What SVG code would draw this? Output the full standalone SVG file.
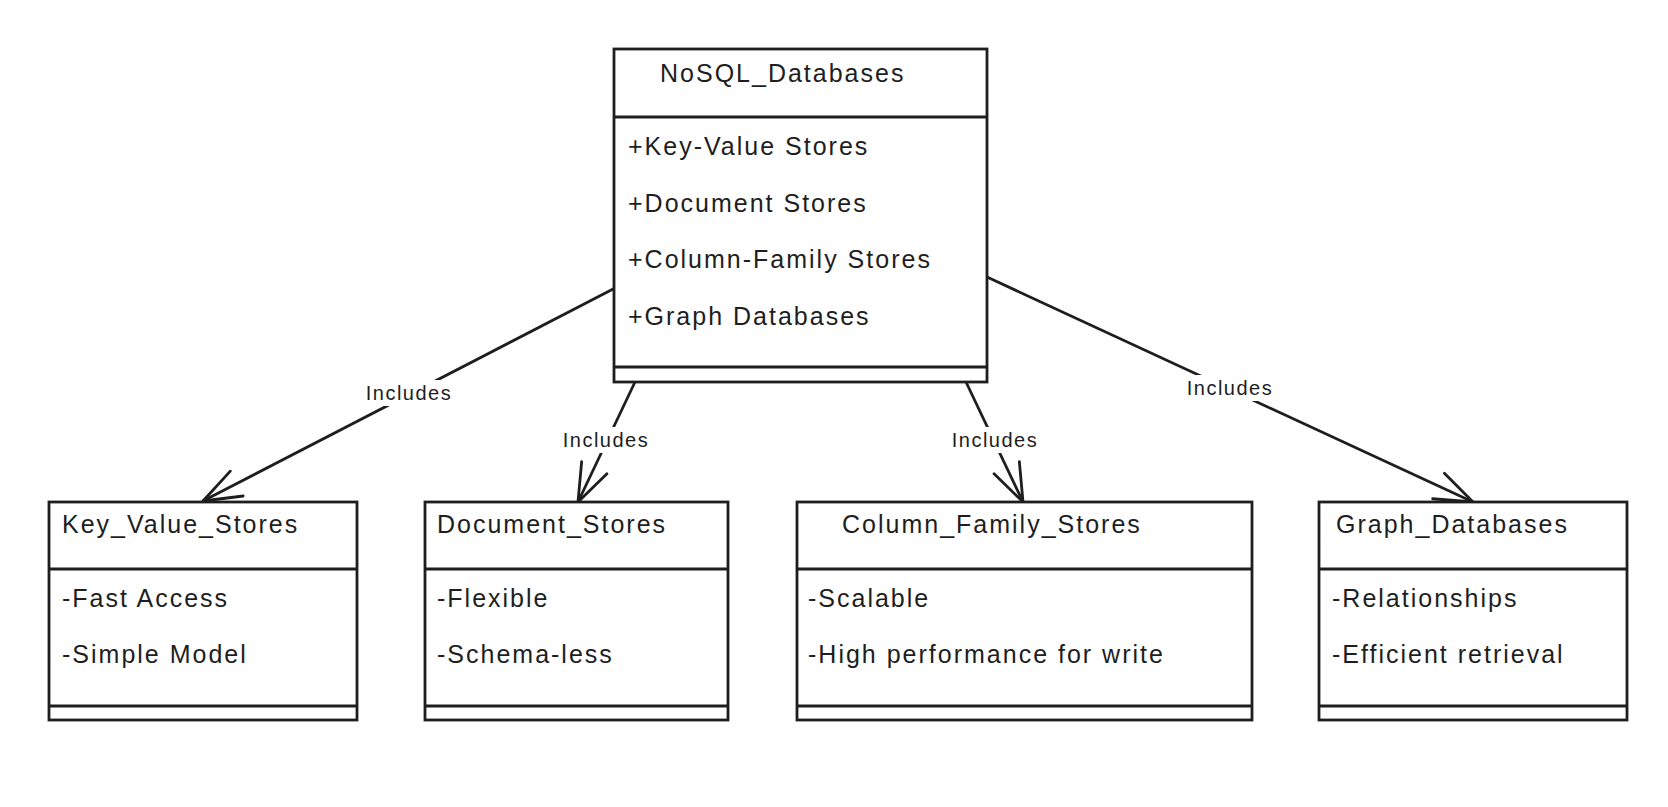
<svg xmlns="http://www.w3.org/2000/svg" width="1668" height="807" viewBox="0 0 1668 807">
<style>
.box{fill:#ffffff;stroke:#1e1e1e;stroke-width:2.8}
.ln{stroke:#1e1e1e;stroke-width:2.8;fill:none}
.t{font-family:"Liberation Sans",Arial,sans-serif;font-size:25px;fill:#1e1e1e;letter-spacing:2px}
.lb{font-family:"Liberation Sans",Arial,sans-serif;font-size:20px;fill:#1e1e1e;letter-spacing:1.5px;text-anchor:middle}
.lbg{fill:#ffffff}
</style>
<defs>
<marker id="arr" markerUnits="userSpaceOnUse" viewBox="-42 -20 46 40" refX="0" refY="0" markerWidth="46" markerHeight="40" orient="auto">
<path d="M-38,-14 L0,0 L-38,14" fill="none" stroke="#1e1e1e" stroke-width="2.8" stroke-linecap="round" stroke-linejoin="round"/>
</marker>
</defs>
<rect width="1668" height="807" fill="#ffffff"/>
<g id="connectors">
<line class="ln" x1="617" y1="287" x2="203" y2="501" marker-end="url(#arr)"/>
<line class="ln" x1="635" y1="382" x2="578" y2="502" marker-end="url(#arr)"/>
<line class="ln" x1="966" y1="382" x2="1023" y2="502" marker-end="url(#arr)"/>
<line class="ln" x1="987" y1="277" x2="1473" y2="502" marker-end="url(#arr)"/>
<rect class="lbg" x="362" y="380" width="94" height="26"/>
<text class="lb" x="409" y="400">Includes</text>
<rect class="lbg" x="559" y="427" width="94" height="26"/>
<text class="lb" x="606" y="447">Includes</text>
<rect class="lbg" x="948" y="427" width="94" height="26"/>
<text class="lb" x="995" y="447">Includes</text>
<rect class="lbg" x="1183" y="375" width="94" height="26"/>
<text class="lb" x="1230" y="395">Includes</text>
</g>
<g id="NoSQL_Databases">
<rect class="box" x="614" y="49" width="373" height="333"/>
<line class="ln" x1="614" y1="117" x2="987" y2="117"/>
<line class="ln" x1="614" y1="367" x2="987" y2="367"/>
<text class="t" x="660" y="82">NoSQL_Databases</text>
<text class="t" x="628" y="155">+Key-Value Stores</text>
<text class="t" x="628" y="212">+Document Stores</text>
<text class="t" x="628" y="268">+Column-Family Stores</text>
<text class="t" x="628" y="325">+Graph Databases</text>
</g>
<g id="Key_Value_Stores">
<rect class="box" x="49" y="502" width="308" height="218"/>
<line class="ln" x1="49" y1="569" x2="357" y2="569"/>
<line class="ln" x1="49" y1="706" x2="357" y2="706"/>
<text class="t" x="62" y="533">Key_Value_Stores</text>
<text class="t" x="62" y="607">-Fast Access</text>
<text class="t" x="62" y="663">-Simple Model</text>
</g>
<g id="Document_Stores">
<rect class="box" x="425" y="502" width="303" height="218"/>
<line class="ln" x1="425" y1="569" x2="728" y2="569"/>
<line class="ln" x1="425" y1="706" x2="728" y2="706"/>
<text class="t" x="437" y="533">Document_Stores</text>
<text class="t" x="437" y="607">-Flexible</text>
<text class="t" x="437" y="663">-Schema-less</text>
</g>
<g id="Column_Family_Stores">
<rect class="box" x="797" y="502" width="455" height="218"/>
<line class="ln" x1="797" y1="569" x2="1252" y2="569"/>
<line class="ln" x1="797" y1="706" x2="1252" y2="706"/>
<text class="t" x="842" y="533">Column_Family_Stores</text>
<text class="t" x="808" y="607">-Scalable</text>
<text class="t" x="808" y="663">-High performance for write</text>
</g>
<g id="Graph_Databases">
<rect class="box" x="1319" y="502" width="308" height="218"/>
<line class="ln" x1="1319" y1="569" x2="1627" y2="569"/>
<line class="ln" x1="1319" y1="706" x2="1627" y2="706"/>
<text class="t" x="1336" y="533">Graph_Databases</text>
<text class="t" x="1332" y="607">-Relationships</text>
<text class="t" x="1332" y="663">-Efficient retrieval</text>
</g>
</svg>
